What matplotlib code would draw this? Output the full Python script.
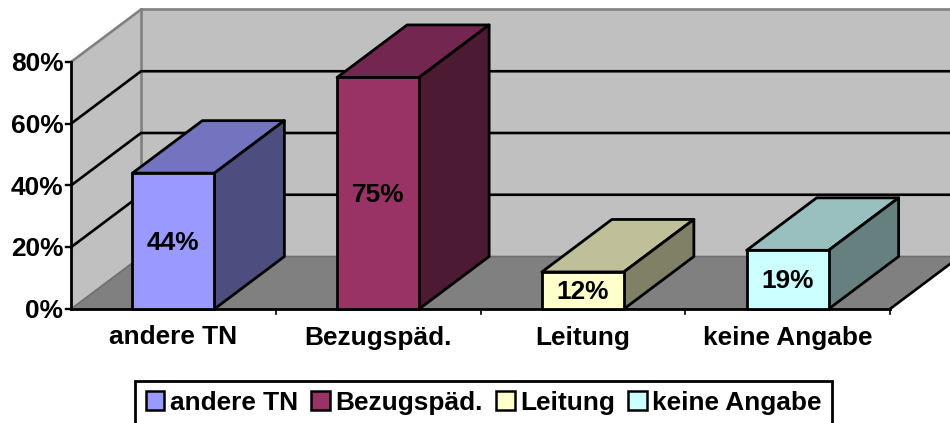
import matplotlib
matplotlib.use('Agg')
import matplotlib.pyplot as plt
from matplotlib.patches import Polygon, Patch

plt.rcParams['font.family'] = ['Liberation Sans', 'DejaVu Sans']
plt.rcParams['font.weight'] = 'bold'

# Daten
categories = ['andere TN', 'Bezugspäd.', 'Leitung', 'keine Angabe']
values = [44, 75, 12, 19]
value_labels = ['44%', '75%', '12%', '19%']
y_ticks = [0, 20, 40, 60, 80]
y_tick_labels = ['0%', '20%', '40%', '60%', '80%']

front_colors = ['#9999FF', '#993366', '#FFFFCC', '#CCFFFF']
top_colors = ['#7373BF', '#732650', '#BFBF99', '#99BFBF']
side_colors = ['#4D4D80', '#4D1A33', '#808066', '#668080']

# Geometrie der 3D-Ansicht (Einheiten: Kategorie / Prozent)
px_x = 204.75
px_y = 3.0875
dx = 70 / px_x
dy = 52.5 / px_y
bar_w = 82 / px_x
n = len(categories)
ymax = y_ticks[-1]
font_size = 18.9

fig = plt.figure(figsize=(9.5, 4.23), dpi=100)
ax = fig.add_axes([0, 0, 1, 1])
ax.set_xlim(-71 / px_x, (950 - 71) / px_x)
ax.set_ylim(-(423 - 309) / px_y, 309 / px_y)
ax.axis('off')

# Wände und Boden
ax.add_patch(Polygon([(0, 0), (dx, dy), (dx, ymax + dy), (0, ymax)], fc='#C0C0C0', ec='none', zorder=1))
ax.add_patch(Polygon([(dx, dy), (n + dx, dy), (n + dx, ymax + dy), (dx, ymax + dy)], fc='#C0C0C0', ec='none', zorder=1))
ax.add_patch(Polygon([(0, 0), (n, 0), (n + dx, dy), (dx, dy)], fc='#808080', ec='none', zorder=1))

grey = '#808080'
ax.plot([0, dx, n + dx], [ymax, ymax + dy, ymax + dy], color=grey, lw=1.9, zorder=2)
ax.plot([dx, dx], [dy, ymax + dy], color=grey, lw=1.9, zorder=2)
ax.plot([0, dx, n + dx], [0, dy, dy], color='#6E6E6E', lw=1.2, zorder=2)

# Gitterlinien
for t in y_ticks[1:-1]:
    ax.plot([0, dx, n + dx], [t, t + dy, t + dy], color='black', lw=1.9, zorder=3)
ax.plot([n, n + dx], [0, dy], color='black', lw=1.9, zorder=3)

# Achsen
ax.plot([0, 0], [0, ymax], color='black', lw=2.0, zorder=6, solid_capstyle='projecting')
ax.plot([0, n], [0, 0], color='black', lw=2.0, zorder=6, solid_capstyle='projecting')
for t, lab in zip(y_ticks, y_tick_labels):
    ax.plot([-5 / px_x, 0], [t, t], color='black', lw=1.7, zorder=6)
    ax.text(-7.5 / px_x, t - 0.7, lab, ha='right', va='center', fontsize=font_size, zorder=7)
for i in range(1, n + 1):
    ax.plot([i, i], [-5 / px_y, 0], color='black', lw=1.2, zorder=6)
for i, c in enumerate(categories):
    ax.text(i + 0.5, -28.5 / px_y, c, ha='center', va='center', fontsize=font_size, zorder=7)

# Balken
for i, v in enumerate(values):
    x0 = i + 0.5 - bar_w / 2
    x1 = i + 0.5 + bar_w / 2
    z = 10 + i
    ax.add_patch(Polygon([(x0, v), (x0 + dx, v + dy), (x1 + dx, v + dy), (x1, v)],
                         fc=top_colors[i], ec='black', lw=2.0, joinstyle='round', zorder=z))
    ax.add_patch(Polygon([(x1, 0), (x1 + dx, dy), (x1 + dx, v + dy), (x1, v)],
                         fc=side_colors[i], ec='black', lw=2.0, joinstyle='round', zorder=z))
    ax.add_patch(Polygon([(x0, 0), (x1, 0), (x1, v), (x0, v)],
                         fc=front_colors[i], ec='black', lw=2.0, joinstyle='round', zorder=z))
    ax.text(i + 0.5, v / 2 - 0.5, value_labels[i], ha='center', va='center', fontsize=font_size, zorder=z)

# Legende
handles = [Patch(fc=c, ec='black', lw=1.8) for c in front_colors]
leg = ax.legend(handles, categories, ncol=4, loc='center', bbox_to_anchor=(483.5 / 950, 1 - 403 / 423),
                frameon=True, fancybox=False, framealpha=1, edgecolor='black', fontsize=font_size,
                handlelength=0.72, handleheight=0.72, handletextpad=0.2, columnspacing=0.5,
                borderpad=0.4, borderaxespad=0)
leg.get_frame().set_linewidth(2.0)
leg.set_zorder(20)

fig.savefig('out.png', dpi=100)
